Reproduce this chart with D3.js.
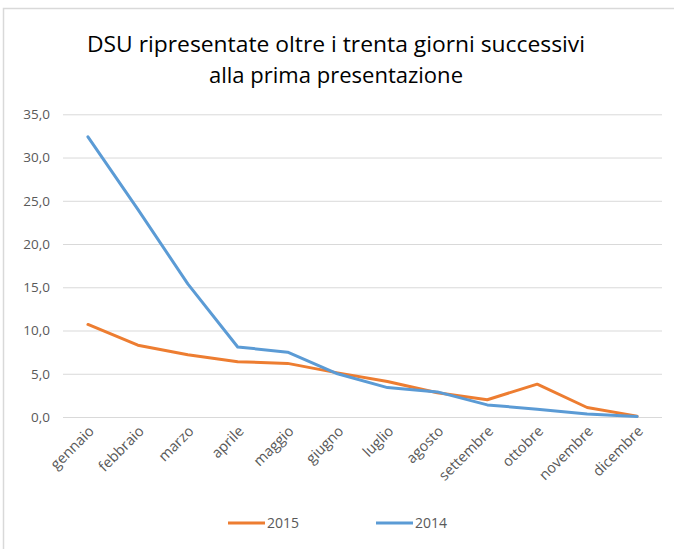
<!DOCTYPE html>
<html><head><meta charset="utf-8">
<script src="https://cdn.jsdelivr.net/npm/d3@7"></script>
<style>body{margin:0;background:#fff}svg{display:block}</style>
</head><body>
<svg id="c" width="674" height="549"></svg>
<script>
const months = ["gennaio","febbraio","marzo","aprile","maggio","giugno","luglio","agosto","settembre","ottobre","novembre","dicembre"];
const values2015 = [10.7, 8.3, 7.2, 6.4, 6.2, 5.1, 4.1, 2.8, 2.0, 3.8, 1.1, 0.1];
const values2014 = [32.4, 24.0, 15.4, 8.1, 7.5, 5.0, 3.4, 2.9, 1.4, 0.9, 0.35, 0.05];
const yTicks = [0, 5, 10, 15, 20, 25, 30, 35];
const seriesNames = ["2015", "2014"];
const seriesColors = ["#ED7D31", "#5B9BD5"];

const svg = d3.select("#c");
const font = "'Open Sans', 'Noto Sans', sans-serif";
// border
svg.append("path").attr("d","M3.5,549 V8.5 H674").attr("fill","none").attr("stroke","#d9d9d9").attr("stroke-width",1.5);

const x = d3.scaleBand().domain(months).range([63, 662]);
const y = d3.scaleLinear().domain([0, 35]).range([417, 114.3]);

// title
const title = svg.append("text").attr("text-anchor","middle").attr("font-family",font).attr("font-size",21.5).attr("fill","#000");
title.append("tspan").attr("x",336).attr("y",52).attr("textLength",498).attr("lengthAdjust","spacingAndGlyphs").text("DSU ripresentate oltre i trenta giorni successivi");
title.append("tspan").attr("x",336).attr("y",83).attr("textLength",254).attr("lengthAdjust","spacingAndGlyphs").text("alla prima presentazione");

// grid
const yAxis = d3.axisLeft(y).tickValues(yTicks).tickSize(-(662-63)).tickFormat(d => d3.format(".1f")(d).replace(".", ","));
const gy = svg.append("g").attr("transform","translate(63,0)").call(yAxis);
gy.select(".domain").remove();
gy.selectAll(".tick line").attr("stroke","#d9d9d9").attr("stroke-width",1);
gy.selectAll(".tick text").attr("x",-13).attr("font-family",font).attr("font-size",13.5).attr("fill","#595959");

// x axis labels
const xAxis = d3.axisBottom(x).tickSize(0);
const gx = svg.append("g").attr("transform","translate(0,417)").call(xAxis);
gx.select(".domain").remove();
gx.selectAll(".tick text")
  .attr("font-family",font).attr("font-size",14.5).attr("fill","#595959")
  .attr("text-anchor","end").attr("dy",0).attr("y",0)
  .attr("transform","translate(7,15) rotate(-45)");

const line = d3.line().x((d,i) => x(months[i]) + x.bandwidth()/2).y(d => y(d));
[values2015, values2014].forEach((vals, k) => {
  svg.append("path").datum(vals).attr("d", line).attr("fill","none")
    .attr("stroke", seriesColors[k]).attr("stroke-width",3).attr("stroke-linejoin","round").attr("stroke-linecap","round");
});

// legend
const legX = [228, 376];
seriesNames.forEach((n, k) => {
  const g = svg.append("g").attr("transform",`translate(${legX[k]},523)`);
  g.append("line").attr("x1",0).attr("x2",37).attr("stroke",seriesColors[k]).attr("stroke-width",3);
  g.append("text").attr("x",39).attr("y",5).attr("font-family",font).attr("font-size",14).attr("fill","#595959").text(n);
});
</script>
</body></html>
